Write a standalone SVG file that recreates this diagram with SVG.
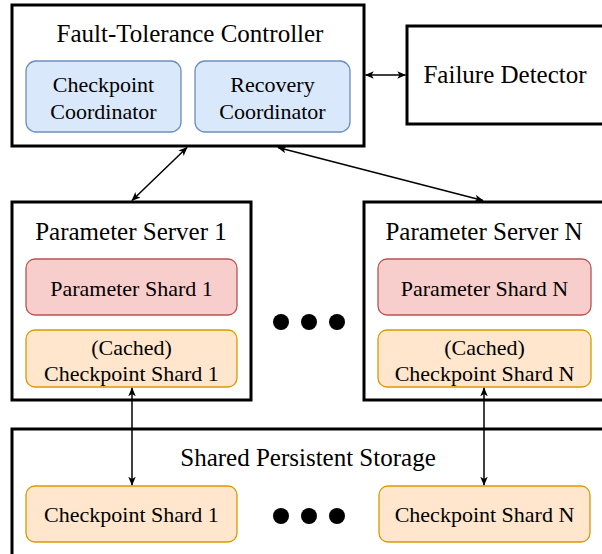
<svg xmlns="http://www.w3.org/2000/svg" width="602" height="554" viewBox="0 0 602 554">
<style>
.outer{fill:#ffffff;stroke:#000000;stroke-width:3}
.blue{fill:#dae8fc;stroke:#6c8ebf;stroke-width:1.3}
.red{fill:#f8cecc;stroke:#b85450;stroke-width:1.3}
.orange{fill:#ffe6cc;stroke:#d79b00;stroke-width:1.3}
.hdr{font-size:25px;fill:#000;text-anchor:middle}
.lbl{font-size:22px;fill:#000;text-anchor:middle}
.conn{stroke:#000;stroke-width:1.5;fill:none;marker-start:url(#ah);marker-end:url(#ah)}
.dot{fill:#000}
</style>
<defs>
<marker id="ah" viewBox="0 0 12 10" refX="11" refY="5" markerWidth="9" markerHeight="7.5" markerUnits="userSpaceOnUse" orient="auto-start-reverse">
<path d="M0,0 L12,5 L0,10 L3,5 Z" fill="#000"/>
</marker>
</defs>
<rect x="0" y="0" width="602" height="554" fill="#ffffff"/>
<g font-family="Liberation Serif, Tinos, DejaVu Serif, serif">
<g id="ft-controller">
<rect class="outer" x="12" y="5" width="352" height="141"/>
<text class="hdr" x="190" y="42">Fault-Tolerance Controller</text>
</g>
<g id="checkpoint-coordinator">
<rect class="blue" x="26" y="61" width="155" height="71" rx="10"/>
<text class="lbl" x="103.5" y="92">Checkpoint</text>
<text class="lbl" x="103.5" y="119">Coordinator</text>
</g>
<g id="recovery-coordinator">
<rect class="blue" x="195" y="61" width="155" height="71" rx="10"/>
<text class="lbl" x="272.5" y="92">Recovery</text>
<text class="lbl" x="272.5" y="119">Coordinator</text>
</g>
<g id="failure-detector">
<rect class="outer" x="407" y="26" width="198" height="98"/>
<text class="hdr" x="505" y="83">Failure Detector</text>
</g>
<g id="ps1">
<rect class="outer" x="12" y="202" width="239" height="198"/>
<text class="hdr" x="131" y="240">Parameter Server 1</text>
</g>
<g id="pshard1">
<rect class="red" x="26" y="259" width="211" height="56" rx="9"/>
<text class="lbl" x="131.5" y="296">Parameter Shard 1</text>
</g>
<g id="cshard1-cached">
<rect class="orange" x="26" y="330" width="211" height="57" rx="9"/>
<text class="lbl" x="131.5" y="355">(Cached)</text>
<text class="lbl" x="131.5" y="381">Checkpoint Shard 1</text>
</g>
<g id="psN">
<rect class="outer" x="364" y="202" width="241" height="198"/>
<text class="hdr" x="484" y="240">Parameter Server N</text>
</g>
<g id="pshardN">
<rect class="red" x="378" y="259" width="213" height="56" rx="9"/>
<text class="lbl" x="484.5" y="296">Parameter Shard N</text>
</g>
<g id="cshardN-cached">
<rect class="orange" x="378" y="330" width="213" height="57" rx="9"/>
<text class="lbl" x="484.5" y="355">(Cached)</text>
<text class="lbl" x="484.5" y="381">Checkpoint Shard N</text>
</g>
<g id="dots-top">
<circle class="dot" cx="281" cy="322" r="8"/>
<circle class="dot" cx="309" cy="322" r="8"/>
<circle class="dot" cx="337" cy="322" r="8"/>
</g>
<g id="storage">
<rect class="outer" x="12" y="429" width="593" height="135"/>
<text class="hdr" x="308" y="466">Shared Persistent Storage</text>
</g>
<g id="cshard1">
<rect class="orange" x="26" y="486" width="211" height="56" rx="9"/>
<text class="lbl" x="131.5" y="522">Checkpoint Shard 1</text>
</g>
<g id="cshardN">
<rect class="orange" x="379" y="486" width="211" height="56" rx="9"/>
<text class="lbl" x="484.5" y="522">Checkpoint Shard N</text>
</g>
<g id="dots-bottom">
<circle class="dot" cx="281" cy="516" r="8"/>
<circle class="dot" cx="309" cy="516" r="8"/>
<circle class="dot" cx="337" cy="516" r="8"/>
</g>
</g>
<g id="connectors">
<line class="conn" x1="365.5" y1="75" x2="405.5" y2="75"/>
<line class="conn" x1="187" y1="147.5" x2="132" y2="200.5"/>
<line class="conn" x1="278" y1="147.5" x2="483" y2="200.5"/>
<line class="conn" x1="132" y1="388" x2="132" y2="485"/>
<line class="conn" x1="484" y1="388" x2="484" y2="485"/>
</g>
</svg>
